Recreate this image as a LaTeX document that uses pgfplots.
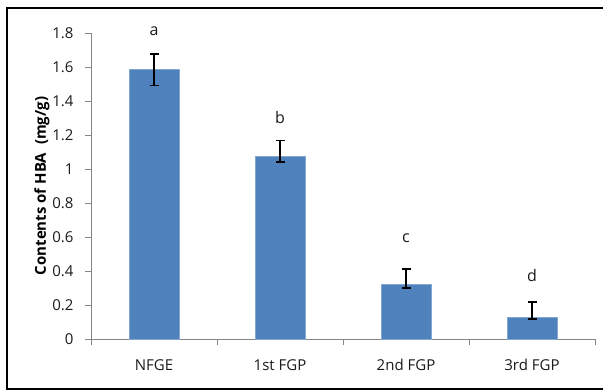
\documentclass[border=0pt]{standalone}
\usepackage{pgfplots}
\pgfplotsset{compat=1.18}
\usepackage{fontspec}
\setmainfont{Open Sans}
\definecolor{barblue}{HTML}{4F81BD}
\definecolor{axgray}{HTML}{868686}
\definecolor{txt}{HTML}{1A1A1A}

\begin{document}
\begin{tikzpicture}[x=1pt,y=1pt]
% page area and the chart frame (open on the right)
\path (0,0) rectangle (603,391);
\draw[line width=2pt, black] (603,383) -- (7,383) -- (7,2) -- (603,2);
\begin{axis}[
  at={(91pt,52pt)}, anchor=south west,
  scale only axis, width=504pt, height=306pt,
  xmin=-0.5, xmax=3.5, ymin=0, ymax=1.8,
  axis x line=bottom, axis y line=left,
  axis line style={axgray, line width=0.9pt, -},
  tick align=outside,
  tick style={axgray, line width=0.9pt},
  major tick length=6pt,
  xtick={-0.5,0.5,1.5,2.5,3.5}, xticklabels={},
  extra x ticks={0,1,2,3},
  extra x tick labels={NFGE,1st FGP,2nd FGP,3rd FGP},
  extra x tick style={major tick length=0pt},
  ytick={0,0.2,...,1.8},
  /pgf/number format/fixed, /pgf/number format/precision=1,
  /pgf/number format/assume math mode=true,
  ticklabel style={font=\fontsize{15}{17}\selectfont, text=txt},
  xticklabel style={yshift=-17pt},
  yticklabel style={xshift=-8pt},
  ylabel={\bfseries Contents of HBA\ \ (mg/g)},
  every axis y label/.style={at={(axis description cs:0,0.5)}, rotate=90, anchor=center,
    yshift=49pt, font=\fontsize{15}{17}\selectfont, text=black},
  clip=false,
]
\addplot[ybar, bar width=50pt, fill=barblue, draw=barblue!70!white, line width=0.6pt,
  error bars/.cd, y dir=both, y explicit,
  error bar style={black, line width=1.3pt},
  error mark options={rotate=90, mark size=4.5pt, black, line width=1.3pt}]
  coordinates {
    (0,1.585) += (0,0.092) -= (0,0.092)
    (1,1.076) += (0,0.092) -= (0,0.034)
    (2,0.322) += (0,0.089) -= (0,0.022)
    (3,0.128) += (0,0.090) -= (0,0.011)
  };
\node[font=\fontsize{16}{18}\selectfont, text=txt] at (axis cs:0,1.81) {a};
\node[font=\fontsize{16}{18}\selectfont, text=txt] at (axis cs:1,1.30) {b};
\node[font=\fontsize{16}{18}\selectfont, text=txt] at (axis cs:2,0.594) {c};
\node[font=\fontsize{16}{18}\selectfont, text=txt] at (axis cs:3,0.376) {d};
\end{axis}
\end{tikzpicture}
\end{document}
